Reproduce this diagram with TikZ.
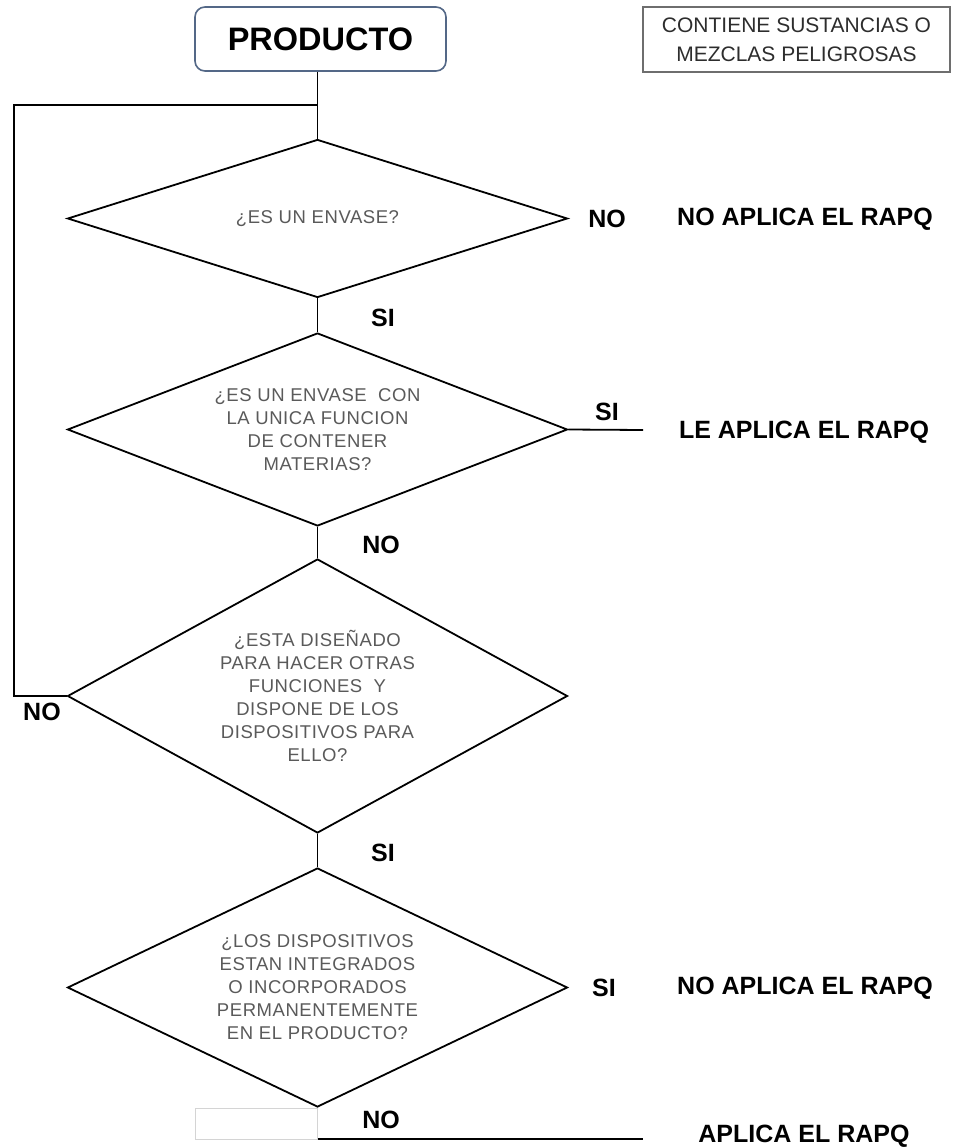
\documentclass[tikz,border=0pt]{standalone}
\usepackage{fontspec}
\setmainfont{Liberation Sans}
\newfontfamily\dfont[LetterSpace=3]{Liberation Sans}
\usetikzlibrary{shapes.geometric}
\definecolor{boxblue}{RGB}{84,104,135}
\definecolor{dtext}{RGB}{90,90,90}
\definecolor{notetext}{RGB}{45,45,45}
\definecolor{noteline}{RGB}{110,110,110}
\definecolor{faint}{RGB}{212,212,212}
\tikzset{
  conn/.style={draw=black, line width=1.8pt},
  decision/.style={shape=diamond, draw=black, line width=1.8pt, inner sep=0pt,
    minimum width=500pt, text=dtext, align=center,
    font=\dfont\fontsize{18.5}{23}\selectfont},
  lbl/.style={font=\bfseries\fontsize{25}{30}\selectfont, inner sep=0pt, text=black},
  startbox/.style={draw=boxblue, line width=1.6pt, rounded corners=10pt,
    minimum width=251pt, minimum height=64pt, inner sep=0pt,
    font=\bfseries\fontsize{32.5}{38}\selectfont},
  notebox/.style={draw=noteline, line width=1.3pt, minimum width=307pt,
    minimum height=65pt, inner sep=0pt, align=center, text=notetext,
    font=\fontsize{21}{29}\selectfont}
}
\begin{document}
\begin{tikzpicture}[x=1pt,y=-1pt]
\useasboundingbox (0,0) rectangle (953,1148);
\fill[white] (0,0) rectangle (953,1148);

\node[startbox] (prod) at (320.5,39) {PRODUCTO};
\node[notebox] (note) at (796.5,39.5) {CONTIENE SUSTANCIAS O\\MEZCLAS PELIGROSAS};

\node[decision, minimum height=158pt, aspect=3.16] (d1) at (317.5,218.5) {¿ES UN ENVASE?};
\node[decision, minimum height=193pt, aspect=2.59] (d2) at (317.5,429.5)
  {¿ES UN ENVASE\ \ CON\\LA UNICA FUNCION\\DE CONTENER\\MATERIAS?};
\node[decision, minimum height=274pt, aspect=1.82] (d3) at (317.5,696)
  {¿ESTA DISEÑADO\\PARA HACER OTRAS\\FUNCIONES\ \ Y\\DISPONE DE LOS\\DISPOSITIVOS PARA\\ELLO?};
\node[decision, minimum height=239pt, aspect=2.09] (d4) at (317.5,987.5)
  {¿LOS DISPOSITIVOS\\ESTAN INTEGRADOS\\O INCORPORADOS\\PERMANENTEMENTE\\EN EL PRODUCTO?};

% coordinates for free ends
\coordinate (j) at (317.5,105);
\coordinate (l1) at (14,105);
\coordinate (e2) at (643,430);
\coordinate (b1) at (317.5,1139);
\coordinate (e4) at (643,1139);

% connectors
\draw[conn] (d1.north |- prod.south) -- (d1.north);
\draw[conn] (j) -- (l1) |- (d3.west);
\draw[conn] (d1.south) -- (d2.north);
\draw[conn] (d2.south) -- (d3.north);
\draw[conn] (d3.south) -- (d4.north);
\draw[conn] (d2.east) -- (e2);
\draw[conn] (d4.south) -- (b1) -- (e4);

% faint box at the bottom
\draw[faint, line width=1pt] (195,1108) rectangle (b1);

% labels
\node[lbl] (n1) at (607,219) {NO};
\node[lbl] (r1) at (805,219) {NO APLICA EL RAPQ};
\node[lbl] (s1) at (383,318) {SI};
\node[lbl] (s2) at (607,412) {SI};
\node[lbl] (r2) at (804,432) {LE APLICA EL RAPQ};
\node[lbl] (n2) at (381,545) {NO};
\node[lbl] (n3) at (42,712) {NO};
\node[lbl] (s3) at (383,853) {SI};
\node[lbl] (s4) at (604,988) {SI};
\node[lbl] (r4) at (805,988) {NO APLICA EL RAPQ};
\node[lbl] (n4) at (381,1120) {NO};
\node[lbl] (r5) at (804,1136) {APLICA EL RAPQ};
\end{tikzpicture}
\end{document}
